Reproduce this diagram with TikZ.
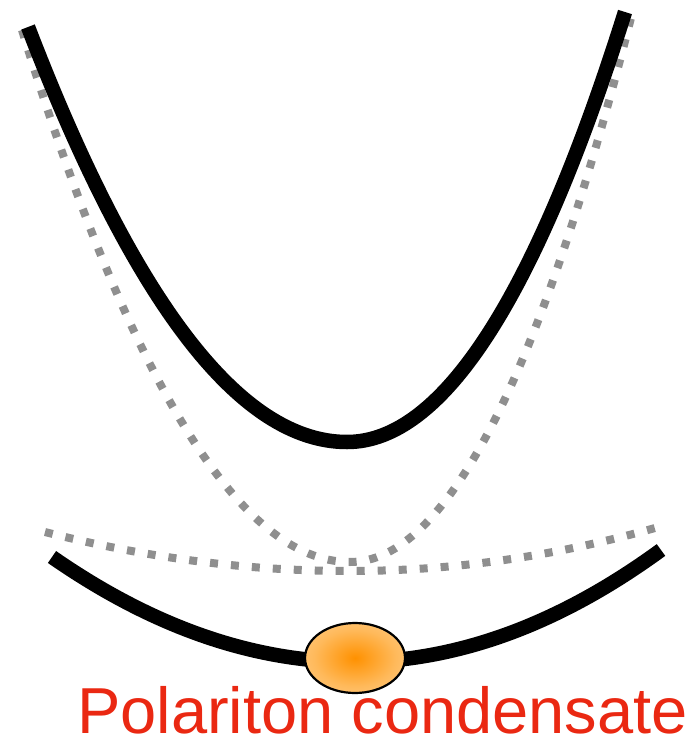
\documentclass[tikz,border=0pt]{standalone}
\usepackage{fontspec}
\setmainfont{Liberation Sans}
\usetikzlibrary{shapes.geometric}
\definecolor{dotgray}{RGB}{143,143,143}
\definecolor{condin}{RGB}{255,145,0}
\definecolor{condmid}{RGB}{255,185,90}
\definecolor{condout}{RGB}{255,225,185}
\definecolor{labelred}{RGB}{234,40,18}
\pgfdeclareradialshading{condshade}{\pgfpoint{0bp}{0bp}}{color(0bp)=(condin); color(20bp)=(condmid); color(50bp)=(condout)}
\tikzset{
  branch/.style={line width=14.5pt, line cap=butt, black},
  dotbranch/.style={line width=8pt, line cap=butt, dotgray, dash pattern=on 8pt off 13pt},
  blob/.style={ellipse, draw=black, line width=2.2pt, shading=condshade, minimum width=100pt, minimum height=70pt, inner sep=0pt},
  caption/.style={text=labelred, font=\fontsize{65}{70}\selectfont, inner sep=0pt, anchor=base west}
}
\begin{document}
\begin{tikzpicture}[x=1pt,y=-1pt]
\useasboundingbox (0,0) rectangle (695,739);
% named end points and vertices
\coordinate (pl) at (22,30);
\coordinate (pv) at (350,562);
\coordinate (pr) at (633,10);
\coordinate (xl) at (45,532);
\coordinate (xv) at (350,571);
\coordinate (xr) at (662,526);
\coordinate (ul) at (28,27);
\coordinate (uv) at (347,442);
\coordinate (ur) at (625,12);
\coordinate (ll) at (52,557);
\coordinate (lv) at (354,662);
\coordinate (lr) at (661,550);
% dotted gray bare-mode curves
\draw[dotbranch] (pl) .. controls (131.3,384.7) and (240.7,562) .. (pv)
                      .. controls (446,562) and (540,378) .. (pr);
\draw[dotbranch] (xl) .. controls (146.7,558) and (248.3,571) .. (xv)
                      .. controls (454,571) and (558,556) .. (xr);
% black polariton branches
\draw[branch] (ul) .. controls (134.3,303.7) and (240.7,442) .. (uv)
                   .. controls (442,442) and (535,298.7) .. (ur);
\draw[branch] (ll) .. controls (152.7,627) and (253.3,662) .. (lv)
                   .. controls (456.3,662) and (558.7,624.7) .. (lr);
% condensate
\node[blob] (cond) at (355,658) {};
\node[caption] (lab) at (77,733) {Polariton condensate};
\end{tikzpicture}
\end{document}
